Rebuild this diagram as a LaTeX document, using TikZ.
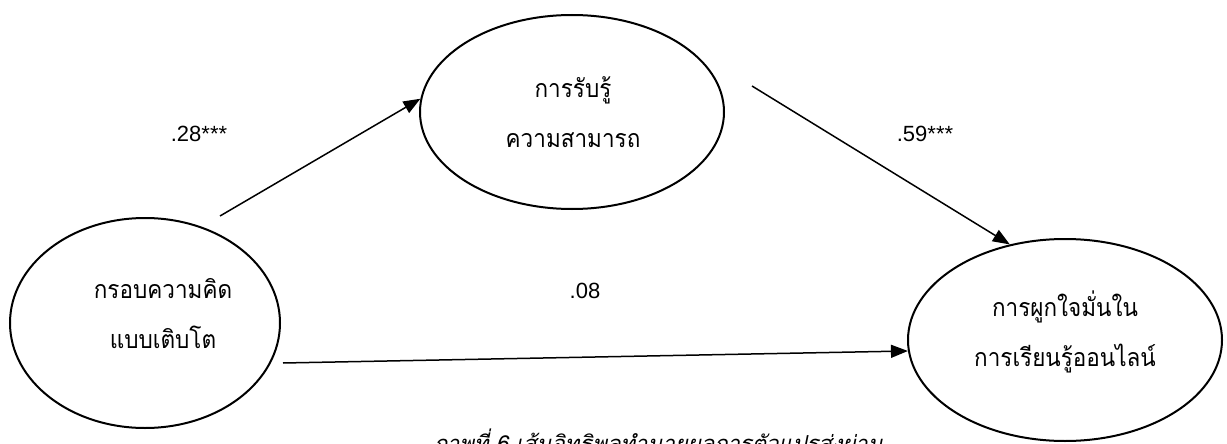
\documentclass[tikz,border=0pt]{standalone}
\usepackage{fontspec}
\setmainfont{Liberation Sans}
\newfontfamily\thai[Script=Thai,FakeStretch=0.9]{Loma}
\newfontfamily\thaiit[Script=Thai,FakeSlant=0.2]{Loma}
\usetikzlibrary{shapes.geometric,arrows.meta}
\begin{document}
\begin{tikzpicture}[x=1pt,y=1pt,
  var/.style 2 args={draw,ellipse,line width=2pt,inner sep=0pt,minimum width=#1,minimum height=#2},
  lbl/.style={font=\thai\fontsize{25}{50}\selectfont,align=center,inner sep=0pt},
  coef/.style={font=\fontsize{22}{22}\selectfont,inner sep=0pt},
  link/.style={line width=1.5pt,-{Triangle[length=17pt,width=13pt]}}]
\useasboundingbox (0,0) rectangle (1227,-444);
\clip (0,0) rectangle (1227,-444);
\node[var={270}{210}] (g) at (145,-323) {};
\node[var={304}{194}] (s) at (572,-112) {};
\node[var={314}{202}] (e) at (1065,-340) {};
\node[lbl] (gt) at (163,-314) {กรอบความคิด\\แบบเติบโต};
\node[lbl] (st) at (573,-112) {การรับรู้\\ความสามารถ};
\node[lbl] (et) at (1065,-332) {การผูกใจมั่นใน\\การเรียนรู้ออนไลน์};
\coordinate (g1) at (220,-216);
\coordinate (s1) at (752,-86);
\coordinate (g2) at (283,-363);
\draw[link] (g1) -- (s.175);
\draw[link] (s1) -- (e.120);
\draw[link] (g2) -- (e.184);
\node[coef] (c1) at (199,-134) {.28***};
\node[coef] (c2) at (925,-134) {.59***};
\node[coef] (c3) at (585,-291) {.08};
\node[font=\thaiit\fontsize{22}{22}\selectfont,anchor=north,inner sep=0pt] (cap) at (658,-429) {ภาพที่ 6 เส้นอิทธิพลทำนายผลการตัวแปรส่งผ่าน};
\end{tikzpicture}
\end{document}
